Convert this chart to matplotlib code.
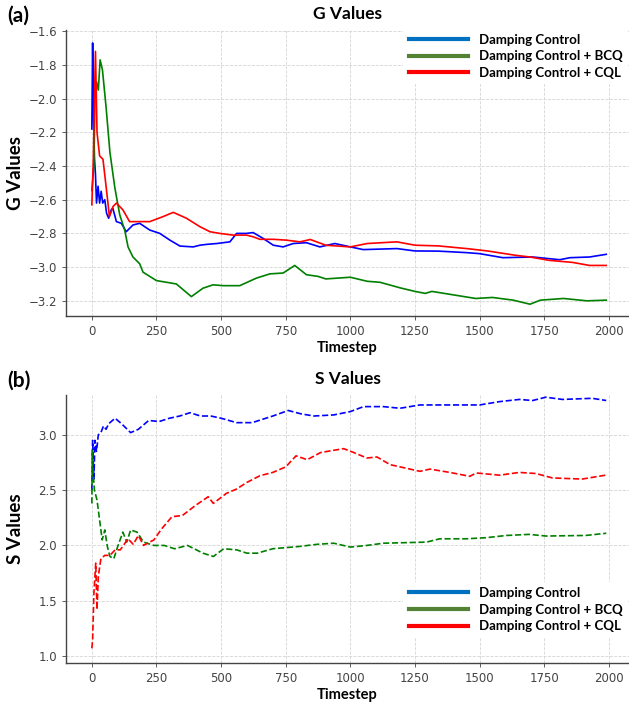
import matplotlib.pyplot as plt
from matplotlib.lines import Line2D

# G values
g_t_dc = [0, 3, 6, 10, 14, 18, 24, 30, 36, 42, 50, 57, 65, 75, 81, 95, 114, 133, 159, 185,
          224, 263, 302, 341, 392, 418, 444, 483, 534, 560, 598, 624, 663, 702, 740, 779, 830, 882, 940, 1000,
          1050, 1180, 1250, 1340, 1450, 1500, 1590, 1706, 1810, 1850, 1925, 1990]
g_dc = [-2.18, -1.67, -2.05, -2.35, -2.45, -2.62, -2.52, -2.62, -2.55, -2.62, -2.60, -2.68, -2.71, -2.66, -2.65, -2.73, -2.74, -2.79, -2.75, -2.74,
        -2.78, -2.80, -2.84, -2.875, -2.88, -2.87, -2.865, -2.86, -2.85, -2.80, -2.80, -2.795, -2.83, -2.87, -2.88, -2.86, -2.855, -2.88, -2.86, -2.88,
        -2.896, -2.89, -2.904, -2.905, -2.914, -2.92, -2.944, -2.94, -2.956, -2.944, -2.94, -2.924]

g_t_bcq = [0, 8, 12, 18, 25, 32, 41, 55, 70, 89, 108, 127, 140, 159, 185, 198, 250, 289, 327, 385,
           430, 469, 508, 572, 637, 689, 740, 785, 830, 875, 905, 1000, 1065, 1115, 1195, 1250, 1290, 1315, 1380, 1485,
           1550, 1630, 1695, 1735, 1825, 1915, 1990]
g_bcq = [-2.545, -2.40, -2.0, -1.90, -1.95, -1.77, -1.83, -2.05, -2.32, -2.53, -2.69, -2.78, -2.88, -2.94, -2.98, -3.03, -3.08, -3.09, -3.10, -3.175,
         -3.125, -3.105, -3.11, -3.11, -3.065, -3.04, -3.035, -2.99, -3.045, -3.055, -3.07, -3.06, -3.084, -3.09, -3.124, -3.144, -3.156, -3.144, -3.16, -3.186,
         -3.18, -3.196, -3.22, -3.196, -3.186, -3.2, -3.196]

g_t_cql = [0, 6, 10, 14, 20, 30, 43, 55, 68, 82, 95, 120, 146, 185, 224, 276, 315, 366, 418, 457,
           495, 546, 598, 624, 650, 702, 753, 805, 845, 905, 1000, 1065, 1180, 1250, 1340, 1450, 1530, 1640, 1695, 1770,
           1860, 1925, 1990]
g_cql = [-2.63, -2.35, -2.0, -1.72, -2.2, -2.34, -2.36, -2.52, -2.70, -2.64, -2.62, -2.66, -2.73, -2.73, -2.73, -2.70, -2.675, -2.71, -2.76, -2.79,
         -2.80, -2.81, -2.81, -2.82, -2.835, -2.835, -2.84, -2.85, -2.836, -2.87, -2.88, -2.86, -2.85, -2.87, -2.874, -2.89, -2.904, -2.93, -2.94, -2.96,
         -2.972, -2.99, -2.99]

# S values
s_t_dc = [0, 3, 8, 12, 18, 25, 35, 45, 55, 65, 90, 115, 150, 180, 220, 260, 300, 340, 380, 420,
          460, 500, 560, 620, 700, 760, 808, 859, 936, 1000, 1051, 1128, 1192, 1269, 1385, 1500, 1577, 1654, 1705, 1756,
          1820, 1936, 1990]
s_dc = [2.5, 2.95, 2.6, 2.95, 2.85, 3.0, 3.02, 3.08, 3.05, 3.10, 3.15, 3.10, 3.02, 3.05, 3.13, 3.12, 3.15, 3.17, 3.2, 3.17,
        3.17, 3.15, 3.11, 3.11, 3.17, 3.22, 3.19, 3.17, 3.18, 3.21, 3.255, 3.255, 3.24, 3.27, 3.27, 3.27, 3.30, 3.32, 3.31, 3.34,
        3.32, 3.33, 3.31]

s_t_bcq = [0, 2, 5, 10, 20, 30, 40, 50, 60, 70, 85, 100, 120, 135, 150, 175, 200, 240, 280, 320,
           370, 430, 470, 510, 560, 600, 640, 700, 800, 872, 936, 1000, 1064, 1128, 1295, 1346, 1449, 1526, 1603, 1692,
           1756, 1910, 1990]
s_bcq = [2.38, 2.86, 2.65, 2.5, 2.41, 2.23, 2.05, 2.14, 1.99, 1.90, 1.88, 1.99, 2.12, 2.03, 2.14, 2.12, 2.03, 2.0, 2.0, 1.97,
         2.0, 1.93, 1.90, 1.97, 1.96, 1.93, 1.93, 1.97, 1.99, 2.01, 2.02, 1.985, 2.0, 2.02, 2.03, 2.06, 2.06, 2.07, 2.09, 2.10,
         2.085, 2.09, 2.11]

s_t_cql = [0, 3, 8, 15, 20, 25, 35, 50, 70, 90, 110, 140, 160, 180, 200, 240, 270, 310, 350, 400,
           450, 470, 520, 560, 600, 650, 700, 750, 790, 833, 885, 974, 1013, 1064, 1103, 1154, 1231, 1269, 1308, 1385,
           1462, 1487, 1577, 1654, 1718, 1782, 1897, 1987]
s_cql = [1.07, 1.15, 1.57, 1.84, 1.42, 1.72, 1.88, 1.91, 1.91, 1.96, 1.96, 2.06, 2.01, 2.09, 2.0, 2.05, 2.15, 2.26, 2.27, 2.36,
         2.44, 2.38, 2.47, 2.51, 2.57, 2.63, 2.66, 2.71, 2.81, 2.775, 2.84, 2.875, 2.84, 2.79, 2.80, 2.73, 2.69, 2.67, 2.69, 2.66,
         2.625, 2.655, 2.635, 2.66, 2.65, 2.61, 2.60, 2.635]

labels = ["Damping Control", "Damping Control + BCQ", "Damping Control + CQL"]
line_colors = ["blue", "green", "red"]
legend_colors = ["#0070C0", "#548235", "#FF0000"]

bold_font = "Lato"

fig = plt.figure(figsize=(6.29, 7.02), dpi=100)
ax1 = fig.add_axes([66 / 629, 1 - 316 / 702, 563 / 629, 286 / 702])
ax2 = fig.add_axes([66 / 629, 1 - 663 / 702, 563 / 629, 268 / 702])

ax1.plot(g_t_dc, g_dc, color=line_colors[0], lw=1.2)
ax1.plot(g_t_bcq, g_bcq, color=line_colors[1], lw=1.2)
ax1.plot(g_t_cql, g_cql, color=line_colors[2], lw=1.2)

ax2.plot(s_t_dc, s_dc, color=line_colors[0], lw=1.2, ls="--")
ax2.plot(s_t_bcq, s_bcq, color=line_colors[1], lw=1.2, ls="--")
ax2.plot(s_t_cql, s_cql, color=line_colors[2], lw=1.2, ls="--")

ax1.set_ylim(-3.29, -1.593)
ax2.set_ylim(0.937, 3.36)

handles = [Line2D([], [], color=c, lw=3) for c in legend_colors]

for ax, name in [(ax1, "G Values"), (ax2, "S Values")]:
    ax.set_xlim(-100, 2078)
    ax.set_xticks([0, 250, 500, 750, 1000, 1250, 1500, 1750, 2000])
    ax.grid(True, ls="--", lw=0.6, color="#d5d5d5")
    ax.set_axisbelow(True)
    for side in ["top", "right"]:
        ax.spines[side].set_visible(False)
    for side in ["left", "bottom"]:
        ax.spines[side].set_color("#444444")
        ax.spines[side].set_linewidth(1.0)
    ax.tick_params(labelsize=8.5, colors="#444444", length=3, width=0.6)
    ax.set_title(name, fontsize=12.5, fontweight="bold", family=bold_font, pad=8)
    ax.set_ylabel(name, fontsize=13.5, fontweight="bold", family=bold_font)
    ax.yaxis.set_label_coords(-0.075, 0.5)
    ax.set_xlabel("Timestep", fontsize=10.5, fontweight="bold", family=bold_font, labelpad=2)

leg_kw = dict(frameon=True, facecolor="white", edgecolor="none", framealpha=1,
              handlelength=4.5, handletextpad=0.8, labelspacing=0.35, borderaxespad=0.1,
              prop={"family": bold_font, "weight": "bold", "size": 9.5})
ax1.legend(handles, labels, loc="upper right", bbox_to_anchor=(1.0, 1.01), **leg_kw)
ax2.legend(handles, labels, loc="lower right", bbox_to_anchor=(1.0, 0.09), **leg_kw)

fig.text(0.012, 0.978, "(a)", fontsize=15, fontweight="bold", family=bold_font, va="center")
fig.text(0.012, 0.458, "(b)", fontsize=15, fontweight="bold", family=bold_font, va="center")

fig.savefig("out.png", dpi=100)
